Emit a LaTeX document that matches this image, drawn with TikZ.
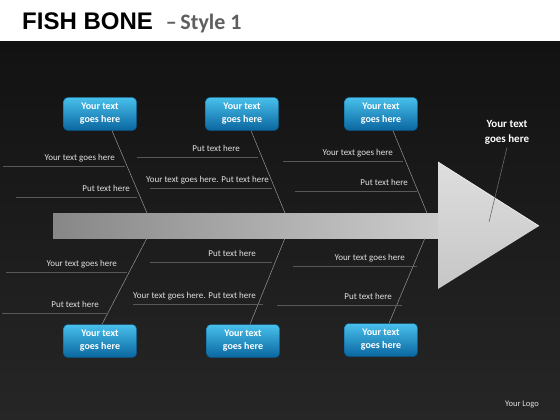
\documentclass[tikz,border=0pt]{standalone}
\usepackage{fontspec}
\setmainfont{Carlito}
\newfontfamily\headfont{Liberation Sans}
\definecolor{bgtop}{RGB}{18,18,18}
\definecolor{bgbot}{RGB}{38,38,38}
\definecolor{boxtop}{RGB}{72,192,236}
\definecolor{boxbot}{RGB}{10,102,160}
\definecolor{ribline}{RGB}{88,88,88}
\definecolor{boneline}{RGB}{150,150,150}
\definecolor{ribtext}{RGB}{225,225,225}
\definecolor{subgray}{RGB}{95,95,95}
\definecolor{shaftl}{RGB}{135,135,135}
\definecolor{shaftr}{RGB}{205,205,205}
\definecolor{headtop}{RGB}{222,222,222}
\definecolor{headbot}{RGB}{198,198,198}
\begin{document}
\begin{tikzpicture}[x=1pt,y=-1pt,
  causebox/.style={rounded corners=4pt,top color=boxtop,bottom color=boxbot,draw=boxbot!80!black,line width=0.4pt,
    minimum width=73pt,minimum height=33pt,inner sep=1pt,align=center,text=white,font=\bfseries\fontsize{10}{13}\selectfont},
  ribtxt/.style={anchor=base east,inner sep=0pt,text=ribtext,font=\fontsize{9}{10}\selectfont},
  rib/.style={draw=ribline,line width=0.5pt},
  bone/.style={draw=boneline,line width=0.5pt}]
        \useasboundingbox (0,0) rectangle (560,420);
        \fill[white] (0,0) rectangle (560,42);
        \fill[top color=bgtop,bottom color=bgbot] (0,42) rectangle (560,420);
        \node[anchor=base west,inner sep=0pt] (title) at (22,30)
          {{\headfont\bfseries\fontsize{24}{28}\selectfont FISH BONE}\hspace{13pt}{\color{subgray}\bfseries\fontsize{22}{26}\selectfont –\,Style 1}};
        \shade[left color=shaftl,right color=shaftr] (53,213) rectangle (441,238);
        \shade[top color=headtop,bottom color=headbot] (438,162) -- (539,226) -- (438,289) -- cycle;
        \draw[white!85!gray,line width=0.8pt] (438,162) -- (539,226);
        \coordinate (t1) at (147,213);
        \coordinate (t2) at (285,213);
        \coordinate (t3) at (427,213);
        \coordinate (u1) at (147,238);
        \coordinate (u2) at (285,238);
        \coordinate (u3) at (425,238);
        \node[causebox] (c1) at (100,114) {Your text\\goes here};
        \node[causebox] (c2) at (242,114) {Your text\\goes here};
        \node[causebox] (c3) at (381,114) {Your text\\goes here};
        \node[causebox] (d1) at (100,341) {Your text\\goes here};
        \node[causebox] (d2) at (243,341) {Your text\\goes here};
        \node[causebox] (d3) at (381,340) {Your text\\goes here};
        \draw[bone] ([xshift=12pt]c1.south) -- (t1);
        \draw[bone] ([xshift=9pt]c2.south) -- (t2);
        \draw[bone] ([xshift=12pt]c3.south) -- (t3);
        \draw[bone] ([xshift=2pt]d1.north) -- (u1);
        \draw[bone] ([xshift=7pt]d2.north) -- (u2);
        \draw[bone] ([xshift=8pt]d3.north) -- (u3);
        \foreach \i/\xa/\xb/\yy/\xr/\txt in {1/3/125/166/115/Your text goes here,2/16/137/197/130/Put text here,
            3/137/258/157/240/Put text here,4/150/272/188/269/Your text goes here. Put text here,
            5/283/403/161/393/Your text goes here,6/295/417/191/408/Put text here,
            7/6/127/272/117/Your text goes here,8/2/108/313/99/Put text here,
            9/150/272/262/256/Put text here,10/133/263/304/256/Your text goes here. Put text here,
            11/293/417/266/405/Your text goes here,12/277/402/305/392/Put text here}{
          \coordinate (ra\i) at (\xa,\yy);
          \coordinate (rb\i) at (\xb,\yy);
          \draw[rib] (ra\i) -- (rb\i);
          \node[ribtxt] (rt\i) at (\xr,\yy-6) {\txt};
        }
        \node[text=white,align=center,font=\bfseries\fontsize{11}{15}\selectfont] (effect) at (507,132) {Your text\\goes here};
        \coordinate (head) at (489,222);
        \draw[draw={rgb,255:red,105;green,105;blue,105},line width=0.6pt] (effect.south) -- (head);
        \node[text=ribtext,font=\fontsize{8.5}{10}\selectfont] (logo) at (522,405) {Your Logo};
  \end{tikzpicture}
\end{document}
